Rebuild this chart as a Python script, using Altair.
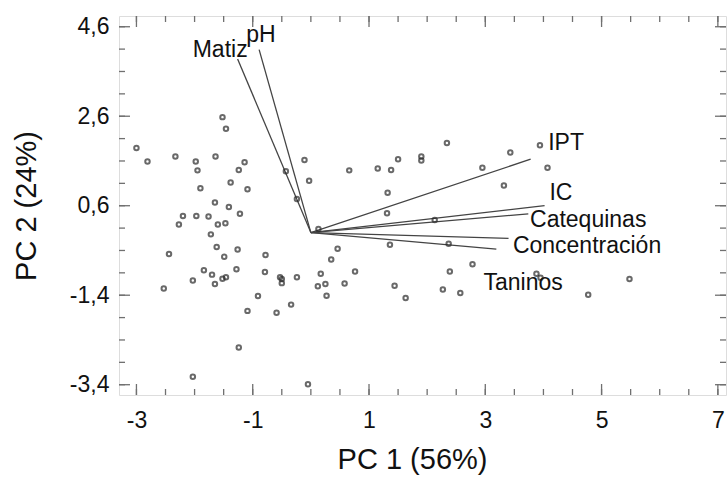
import altair as alt
import pandas as pd

# --- data -----------------------------------------------------------
pc1 = [-3.00, -2.81, -2.33, -1.98, -1.95, -1.90, -1.64, -1.52, -1.46, -1.65,
       -1.41, -1.24, -1.14, -1.38, -1.09, -0.43, -0.11, -0.03, -0.24, -2.20,
       -2.27, -1.97, -1.76, -1.60, -1.47, -1.22, -1.72, -2.44, -1.62, -1.26,
       -1.49, -0.78, -1.84, -1.70, -2.03, -2.53, -1.65, -1.52, -1.46, -1.28,
       -0.79, -0.53, -0.50, -0.50, -0.24, -0.91, -1.09, -0.59, -0.34, -1.24,
       -2.03, -0.05, 0.13, 0.66, 1.15, 1.38, 1.50, 1.90, 1.90, 2.34,
       3.43, 2.95, 3.32, 1.32, 1.31, 2.13, 0.46, 0.35, 1.36, 2.37,
       0.17, 0.76, 0.12, 0.25, 0.27, 0.58, 1.44, 1.63, 2.39, 2.78,
       2.27, 2.57, 3.94, 4.07, 3.88, 3.95, 5.48, 4.77]
pc2 = [1.89, 1.59, 1.70, 1.59, 1.39, 0.99, 1.70, 2.58, 2.32, 0.67,
       0.57, 1.40, 1.57, 1.12, 0.97, 1.37, 1.62, 1.16, 0.75, 0.37,
       0.18, 0.37, 0.36, 0.18, 0.21, 0.42, -0.04, -0.48, -0.32, -0.38,
       -0.54, -0.50, -0.84, -0.94, -1.07, -1.25, -1.15, -1.03, -1.00, -0.82,
       -0.88, -1.00, -1.04, -1.13, -1.00, -1.42, -1.75, -1.79, -1.61, -2.57,
       -3.22, -3.39, 0.08, 1.39, 1.43, 1.40, 1.64, 1.70, 1.61, 2.00,
       1.79, 1.45, 1.05, 0.89, 0.43, 0.28, -0.36, -0.60, -0.27, -0.25,
       -0.92, -0.87, -1.20, -1.15, -1.41, -1.14, -1.19, -1.46, -0.87, -0.71,
       -1.27, -1.35, 1.95, 1.45, -0.92, -1.01, -1.04, -1.39]

variables = ["Matiz", "pH", "IPT", "IC", "Catequinas", "Concentración", "Taninos"]
load_x = [-1.26, -0.89, 3.78, 4.02, 3.74, 3.40, 3.19]
load_y = [3.88, 4.09, 1.64, 0.60, 0.42, -0.13, -0.37]
label_x = [-1.56, -0.86, 4.39, 4.30, 4.77, 4.75, 3.65]
label_y = [4.08, 4.42, 2.01, 0.89, 0.28, -0.30, -1.13]

x_major = [-3, -1, 1, 3, 5, 7]
y_major = [-3.4, -1.4, 0.6, 2.6, 4.6]
x_minor = [-3.0, -2.5, -2.0, -1.5, -1.0, -0.5, 0.0, 0.5, 1.0, 1.5, 2.0, 2.5,
           3.0, 3.5, 4.0, 4.5, 5.0, 5.5, 6.0, 6.5, 7.0]
y_minor = [-3.4, -2.9, -2.4, -1.9, -1.4, -0.9, -0.4, 0.1, 0.6, 1.1, 1.6, 2.1,
           2.6, 3.1, 3.6, 4.1, 4.6]

x_domain = [-3.3, 7.14]
y_domain = [-3.63, 4.84]

W, H = 607, 379
FONT = "Liberation Sans"
AXIS_COL = "#707070"
TXT = "#111111"

scores = pd.DataFrame({"pc1": pc1, "pc2": pc2})
loads = pd.DataFrame({"var": variables, "x0": 0.0, "y0": 0.0,
                      "x": load_x, "y": load_y, "lx": label_x, "ly": label_y})

xs = alt.Scale(domain=x_domain, nice=False, zero=False)
ys = alt.Scale(domain=y_domain, nice=False, zero=False)

x_axis = alt.Axis(values=x_major, ticks=False, domain=False, grid=False,
                  labelExpr="(datum.value < 0 ? '-' : '') + abs(datum.value)",
                  labelFont=FONT, labelFontSize=23, labelColor=TXT,
                  labelPadding=14, title="PC 1 (56%)", titleFont=FONT,
                  titleFontSize=29, titleFontWeight="normal", titleColor=TXT,
                  titlePadding=13, titleX=293, labelFlush=False)
y_axis = alt.Axis(values=y_major, ticks=False, domain=False, grid=False,
                  labelExpr="(datum.value < 0 ? '-' : '') + replace(format(abs(datum.value), '.1f'), '.', ',')",
                  labelFont=FONT, labelFontSize=23, labelColor=TXT,
                  labelPadding=10, title="PC 2 (24%)", titleFont=FONT,
                  titleFontSize=29, titleFontWeight="normal", titleColor=TXT,
                  titlePadding=28, labelFlush=False)

points = alt.Chart(scores).mark_point(
    shape="circle", filled=False, size=20, stroke="#2a2a2a", strokeWidth=2
).encode(
    x=alt.X("pc1:Q", scale=xs, axis=x_axis),
    y=alt.Y("pc2:Q", scale=ys, axis=y_axis),
)

vectors = alt.Chart(loads).mark_rule(color="#444444", strokeWidth=1.3).encode(
    x=alt.X("x0:Q", scale=xs), y=alt.Y("y0:Q", scale=ys),
    x2="x:Q", y2="y:Q",
)

labels = alt.Chart(loads).mark_text(
    font=FONT, fontSize=23, color=TXT, align="center", baseline="middle"
).encode(
    x=alt.X("lx:Q", scale=xs), y=alt.Y("ly:Q", scale=ys), text="var:N"
)

# inward tick marks on all four sides
xmaj = pd.DataFrame({"v": x_major})
xmin = pd.DataFrame({"v": x_minor})
ymaj = pd.DataFrame({"v": y_major})
ymin = pd.DataFrame({"v": y_minor})
tk = dict(color=AXIS_COL, strokeWidth=1.3)

def xticks(df, length):
    b = alt.Chart(df).mark_rule(**tk).encode(
        x=alt.X("v:Q", scale=xs), y=alt.value(H), y2=alt.value(H - length))
    t = alt.Chart(df).mark_rule(**tk).encode(
        x=alt.X("v:Q", scale=xs), y=alt.value(0), y2=alt.value(length))
    return [b, t]

def yticks(df, length):
    l = alt.Chart(df).mark_rule(**tk).encode(
        y=alt.Y("v:Q", scale=ys), x=alt.value(0), x2=alt.value(length))
    r = alt.Chart(df).mark_rule(**tk).encode(
        y=alt.Y("v:Q", scale=ys), x=alt.value(W), x2=alt.value(W - length))
    return [l, r]

tick_layers = xticks(xmin, 6) + xticks(xmaj, 11) + yticks(ymin, 6) + yticks(ymaj, 11)

chart = alt.layer(vectors, points, labels, *tick_layers).properties(
    width=W, height=H,
    autosize=alt.AutoSizeParams(type="none"),
    padding={"left": 119, "top": 16, "right": 1, "bottom": 82},
).configure_view(
    stroke=AXIS_COL, strokeWidth=1.6
).configure(background="white")

chart.save("out.html", embed_options={"renderer": "svg", "actions": False})
